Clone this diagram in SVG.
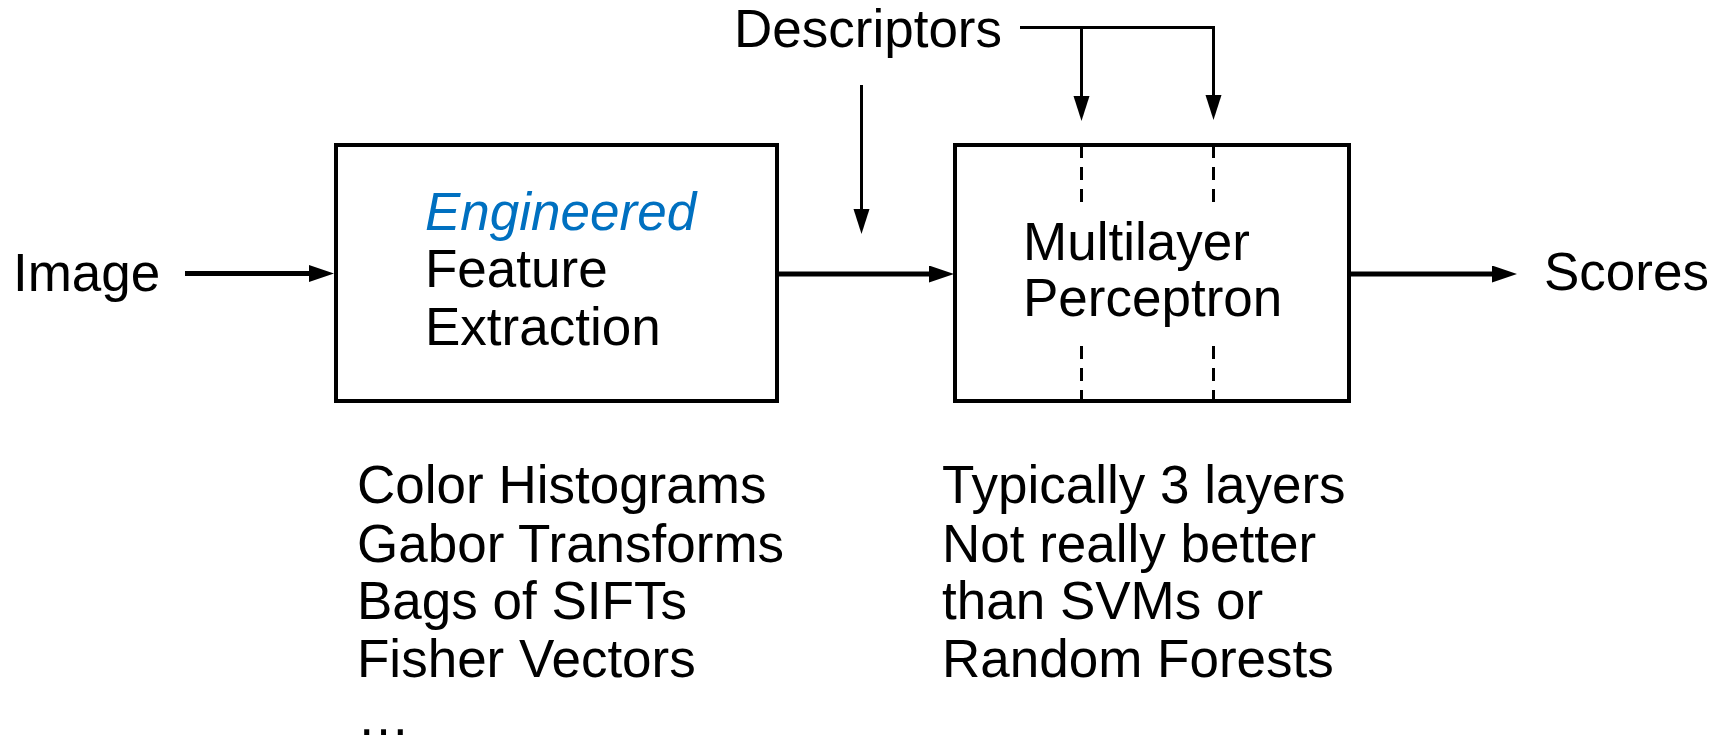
<svg xmlns="http://www.w3.org/2000/svg" width="1723" height="741" viewBox="0 0 1723 741">
  <style>
    text { font-family: "Liberation Sans", Arial, sans-serif; font-size: 53px; fill: #000; }
    .em { font-style: italic; fill: #0070C0; }
    .box { fill: #fff; stroke: #000; stroke-width: 4; }
    .thick { stroke: #000; stroke-width: 5; fill: none; }
    .thin { stroke: #000; stroke-width: 3; fill: none; }
    .layer { stroke: #000; stroke-width: 3; stroke-dasharray: 13 9; fill: none; }
  </style>
  <defs>
    <marker id="headThick" markerUnits="userSpaceOnUse" markerWidth="26" markerHeight="18" refX="0" refY="8.5" orient="auto">
      <path d="M0,0 L25,8.5 L0,17 Z" fill="#000"/>
    </marker>
    <marker id="headThin" markerUnits="userSpaceOnUse" markerWidth="26" markerHeight="17" refX="0" refY="8" orient="auto">
      <path d="M0,0 L25,8 L0,16 Z" fill="#000"/>
    </marker>
  </defs>

  <!-- input / output labels -->
  <g id="image-label"><text x="13" y="291">Image</text></g>
  <g id="scores-label"><text x="1544" y="290">Scores</text></g>
  <g id="descriptors-label"><text x="734" y="47">Descriptors</text></g>

  <!-- feature extraction stage -->
  <g id="feature-extraction">
    <rect class="box" x="336" y="145" width="441" height="256"/>
    <text class="em" x="425" y="230">Engineered</text>
    <text x="425" y="287">Feature</text>
    <text x="425" y="345">Extraction</text>
  </g>

  <!-- classifier stage with hidden-layer separators -->
  <g id="mlp">
    <rect class="box" x="955" y="145" width="394" height="256"/>
    <path class="layer" d="M1081.5,145 V203 M1213.5,145 V203"/>
    <path class="layer" d="M1081.5,346 V401 M1213.5,346 V401"/>
    <text x="1023" y="260">Multilayer</text>
    <text x="1023" y="316">Perceptron</text>
  </g>

  <g id="feature-notes">
    <text x="357" y="503">Color Histograms</text>
    <text x="357" y="562">Gabor Transforms</text>
    <text x="357" y="619">Bags of SIFTs</text>
    <text x="357" y="677">Fisher Vectors</text>
    <text x="357" y="735">…</text>
  </g>

  <g id="mlp-notes">
    <text x="942" y="503">Typically 3 layers</text>
    <text x="942" y="562">Not really better</text>
    <text x="942" y="619">than SVMs or</text>
    <text x="942" y="677">Random Forests</text>
  </g>

  <!-- connectors -->
  <g id="connectors">
    <line class="thick" x1="185" y1="273.5" x2="309" y2="273.5" marker-end="url(#headThick)"/>
    <line class="thick" x1="778" y1="274" x2="929" y2="274" marker-end="url(#headThick)"/>
    <line class="thick" x1="1351" y1="274" x2="1492" y2="274" marker-end="url(#headThick)"/>
    <line class="thin" x1="861.5" y1="85" x2="861.5" y2="209" marker-end="url(#headThin)"/>
    <path class="thin" d="M1020,27.5 H1213.5"/>
    <line class="thin" x1="1081.5" y1="27.5" x2="1081.5" y2="96" marker-end="url(#headThin)"/>
    <line class="thin" x1="1213.5" y1="26" x2="1213.5" y2="95" marker-end="url(#headThin)"/>
  </g>
</svg>
